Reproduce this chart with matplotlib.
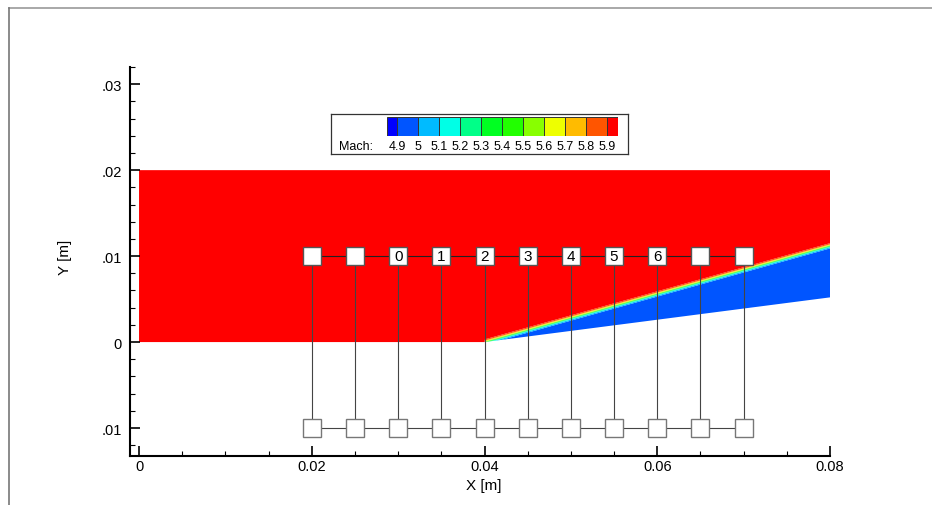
import matplotlib
matplotlib.use("Agg")
import matplotlib.pyplot as plt
import numpy as np
from matplotlib.lines import Line2D

plt.rcParams['font.family'] = ['Liberation Sans', 'DejaVu Sans']

# contour levels / colours of the Mach legend
mach_levels = [4.9, 5.0, 5.1, 5.2, 5.3, 5.4, 5.5, 5.6, 5.7, 5.8, 5.9]
level_labels = ["4.9", "5", "5.1", "5.2", "5.3", "5.4", "5.5", "5.6", "5.7", "5.8", "5.9"]
level_colors = ["#0000ff", "#0055ff", "#00bbff", "#00ffe6", "#00ff88", "#00ff22",
                "#22ff00", "#88ff00", "#eeff00", "#ffbb00", "#ff5500", "#ff0000"]

# flow geometry
domain_x = [0.0, 0.08]
domain_top = 0.02
ramp_start_x = 0.04
ramp_end_y = 0.0052      # wall height at x = 0.08
shock_end_y = 0.0112     # shock height at x = 0.08
mach_inflow = 5.95
mach_post = 4.95
shock_width = 0.0002

# probe rake
probe_x = [0.02, 0.025, 0.03, 0.035, 0.04, 0.045, 0.05, 0.055, 0.06, 0.065, 0.07]
probe_labels = ["", "", "0", "1", "2", "3", "4", "5", "6", "", ""]
probe_top_y = 0.01
probe_bot_y = -0.01

# tick labels as printed
yticks = [-0.01, 0.0, 0.01, 0.02, 0.03]
ytick_labels = [".01", "0", ".01", ".02", ".03"]
xticks = [0.0, 0.02, 0.04, 0.06, 0.08]
xtick_labels = ["0", "0.02", "0.04", "0.06", "0.08"]

W, H = 932, 506
fig = plt.figure(figsize=(W / 100, H / 100), dpi=100)

def px(l, t, r, b):
    return [l / W, 1 - b / H, (r - l) / W, (b - t) / H]

ax = fig.add_axes(px(130.4, 68, 830, 457.4))
ax.set_xlim(-0.001, 0.08)
ax.set_ylim(-0.0133, 0.032)

# curvilinear grid following the wall
xi = np.linspace(domain_x[0], domain_x[1], 1201)
eta = np.linspace(0, 1, 500)
XI, ETA = np.meshgrid(xi, eta)
wall = np.where(XI > ramp_start_x, (XI - ramp_start_x) * ramp_end_y / (domain_x[1] - ramp_start_x), 0.0)
X = XI
Y = wall + ETA * (domain_top - wall)
s = shock_end_y / (domain_x[1] - ramp_start_x)
d = (Y - s * (X - ramp_start_x)) / np.sqrt(1 + s * s)
M = mach_post + (mach_inflow - mach_post) * 0.5 * (1 + np.tanh(d / shock_width))
M = np.where(X <= ramp_start_x, mach_inflow, M)

levels = [0.0] + mach_levels + [10.0]
ax.contourf(X, Y, M, levels=levels, colors=level_colors, antialiased=True)

# probe rake lines
ax.plot(probe_x, [probe_top_y] * len(probe_x), color="#222222", lw=0.8, zorder=3)
ax.plot(probe_x, [probe_bot_y] * len(probe_x), color="#444444", lw=0.8, zorder=3)
for px_ in probe_x:
    ax.plot([px_, px_], [probe_top_y, probe_bot_y], color="#444444", lw=0.8, zorder=3)
ax.plot(probe_x, [probe_top_y] * len(probe_x), ls="none", marker="s", ms=12.5,
        mfc="white", mec="#555555", mew=1.0, zorder=4)
ax.plot(probe_x, [probe_bot_y] * len(probe_x), ls="none", marker="s", ms=12.5,
        mfc="white", mec="#777777", mew=1.0, zorder=4)
for px_, lab in zip(probe_x, probe_labels):
    if lab:
        ax.text(px_, probe_top_y, lab, ha="center", va="center", fontsize=11, zorder=5)

# axes styling
for side in ["top", "right"]:
    ax.spines[side].set_visible(False)
for side in ["left", "bottom"]:
    ax.spines[side].set_linewidth(1.5)
ax.set_xticks(xticks)
ax.set_xticklabels(xtick_labels)
ax.set_yticks(yticks)
ax.set_yticklabels(ytick_labels)
ax.set_xticks(np.arange(0, 0.0801, 0.005), minor=True)
ax.set_yticks(np.arange(-0.012, 0.0321, 0.002), minor=True)
ax.tick_params(which="major", direction="in", length=7, width=1.2, labelsize=10.5)
ax.tick_params(axis="y", which="major", pad=6)
ax.tick_params(axis="x", which="major", pad=2)
ax.tick_params(which="minor", direction="in", length=3.5, width=0.8)
ax.patch.set_alpha(0)

fig.text(484 / W, 1 - 486 / H, "X [m]", ha="center", va="center", fontsize=11)
fig.text(65 / W, 1 - 257 / H, "Y [m]", ha="center", va="center", rotation=90, fontsize=11)

# legend box
lax = fig.add_axes(px(331, 115, 628, 155))
lax.set_xticks([])
lax.set_yticks([])
for sp in lax.spines.values():
    sp.set_linewidth(0.9)
    sp.set_color("#333333")
lax.text(356 / W, 1 - 147 / H, "Mach:", transform=fig.transFigure,
         ha="center", va="center", fontsize=9)

cax = fig.add_axes(px(386.7, 118, 618, 137))
edges = [mach_levels[0] - 0.05] + mach_levels + [mach_levels[-1] + 0.05]
lefts = edges[:-1]
widths = np.diff(edges)
cax.bar(lefts, [1] * len(lefts), width=widths, align="edge", color=level_colors,
        edgecolor="#333333", linewidth=0.7)
cax.set_xlim(edges[0], edges[-1])
cax.set_ylim(0, 1)
cax.set_yticks([])
cax.set_xticks(mach_levels)
cax.set_xticklabels(level_labels)
cax.tick_params(length=0, labelsize=9, pad=3)
for sp in cax.spines.values():
    sp.set_visible(False)

# outer frame lines
fig.add_artist(Line2D([9 / W, 1], [1 - 8.5 / H, 1 - 8.5 / H], color="#999999", lw=1.2))
fig.add_artist(Line2D([9 / W, 9 / W], [0, 1 - 8.5 / H], color="#777777", lw=1.2))

fig.savefig("out.png", dpi=100)
